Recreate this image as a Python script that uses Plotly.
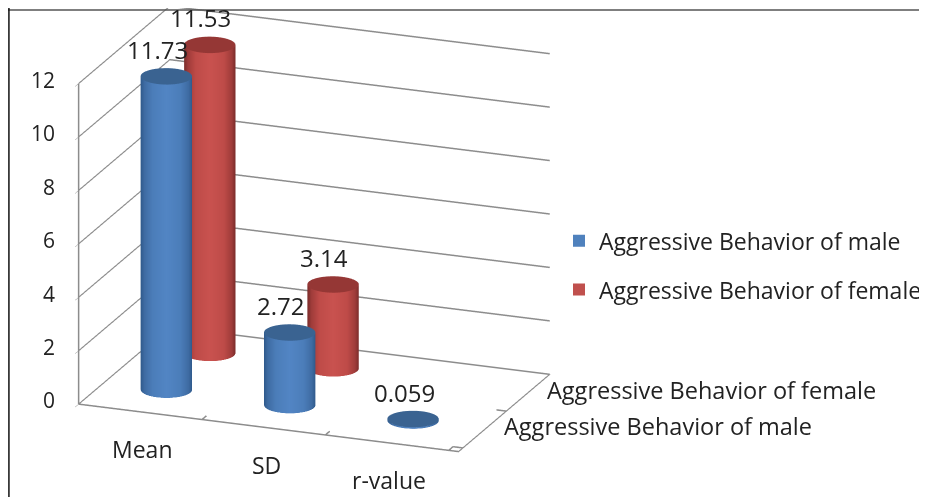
import numpy as np
import plotly.graph_objects as go

categories = ["Mean", "SD", "r-value"]
series = ["Aggressive Behavior of male", "Aggressive Behavior of female"]
male = [11.73, 2.72, 0.059]
female = [11.53, 3.14, None]
labels = {"male": ["11.73", "2.72", "0.059"], "female": ["11.53", "3.14", None]}
z_ticks = [0, 2, 4, 6, 8, 10, 12]

SCALE = 1.387
ASPECT = dict(x=1.2 * SCALE, y=0.75 * SCALE, z=1.0 * SCALE)
AZ = np.radians(21)
EL = np.radians(19)
DIST = 2.5
PAN = 0.627
LIFT = -0.102
FONT = "Open Sans"
TXT = "#222222"
GRID = "#8c8c8c"

right = np.array([np.cos(AZ), np.sin(AZ), 0])
view = np.array([np.cos(EL) * np.sin(AZ), -np.cos(EL) * np.cos(AZ), np.sin(EL)])
center = right * PAN + np.array([0, 0, LIFT])
eye = center + view * DIST


def cylinder(cx, cy, h, cscale, top, name):
    rx, ry = 0.195, 0.208
    t = np.linspace(0, 2 * np.pi, 73)
    zz = np.array([0.0, h])
    X = cx + rx * np.outer(np.cos(t), [1, 1])
    Y = cy + ry * np.outer(np.sin(t), [1, 1])
    Z = np.outer(np.ones_like(t), zz)
    u = np.abs(np.cos(t) * np.cos(AZ) + np.sin(t) * np.sin(AZ))
    C = np.outer(u, [1, 1])
    light = dict(ambient=1, diffuse=0, specular=0, fresnel=0, roughness=1)
    side = go.Surface(x=X, y=Y, z=Z, surfacecolor=C, cmin=0, cmax=1, colorscale=cscale,
                      showscale=False, lighting=light, hoverinfo="skip", name=name)
    rr = np.array([0.0, 1.0])
    Xc = cx + rx * np.outer(np.cos(t), rr)
    Yc = cy + ry * np.outer(np.sin(t), rr)
    Zc = np.full_like(Xc, h)
    cap = go.Surface(x=Xc, y=Yc, z=Zc, surfacecolor=np.zeros_like(Xc), cmin=0, cmax=1,
                     colorscale=[[0, top], [1, top]], showscale=False, lighting=light,
                     hoverinfo="skip", name=name)
    return [side, cap]


BLUE = [[0, "#5285C4"], [0.55, "#4B7DB9"], [0.85, "#3F6CA3"], [1, "#2F5A8C"]]
RED = [[0, "#C9524F"], [0.55, "#BE4B48"], [0.85, "#9F3C3A"], [1, "#7A2C2A"]]

fig = go.Figure()
annotations = []
for s, (vals, cs, top, key, color) in enumerate([
    (male, BLUE, "#3A6391", "male", "#4F81BD"),
    (female, RED, "#953735", "female", "#C0504D"),
]):
    cy = s + 0.5
    for i, v in enumerate(vals):
        if v is None:
            continue
        for tr in cylinder(i + 0.5, cy, v, cs, top, series[s]):
            fig.add_trace(tr)
        annotations.append(dict(x=i + 0.5, y=cy, z=v, text=labels[key][i], showarrow=False,
                                xshift=-9, yshift=27, font=dict(family=FONT, size=24, color=TXT)))
    fig.add_trace(go.Scatter3d(x=[0.5], y=[cy], z=[vals[0] / 2], mode="markers", name=series[s],
                               legendgroup=key,
                               marker=dict(symbol="square", size=2, color=color), hoverinfo="skip"))

# tick labels
for v in z_ticks:
    annotations.append(dict(x=0, y=0, z=v, text=str(v), showarrow=False, xanchor="right", xshift=-26,
                            font=dict(family=FONT, size=21, color=TXT)))
for i, c in enumerate(categories):
    annotations.append(dict(x=i + 0.5, y=0, z=0, text=c, showarrow=False, yshift=-41, xshift=-2,
                            font=dict(family=FONT, size=23, color=TXT)))
for i, c in enumerate(series):
    annotations.append(dict(x=3, y=i + 0.5, z=0, text=c, showarrow=False, xanchor="left", xshift=27,
                            yshift=2, font=dict(family=FONT, size=23.5, color=TXT)))

# category boundary ticks on the floor edges
for b in [1, 2, 3]:
    fig.add_trace(go.Scatter3d(x=[b, b], y=[0, -0.1], z=[0, 0], mode="lines",
                               line=dict(color=GRID, width=3), showlegend=False, hoverinfo="skip"))
for b in [0, 1, 2]:
    fig.add_trace(go.Scatter3d(x=[3, 3.08], y=[b, b], z=[0, 0], mode="lines",
                               line=dict(color=GRID, width=3), showlegend=False, hoverinfo="skip"))

ax_common = dict(showbackground=False, showgrid=False, zeroline=False, showline=True,
                 linecolor=GRID, linewidth=3, title=dict(text=""), showspikes=False,
                 showticklabels=False)

fig.update_layout(
    width=919, height=489, autosize=False,
    margin=dict(l=0, r=0, t=0, b=0),
    paper_bgcolor="white",
    font=dict(family=FONT, color=TXT),
    legend=dict(x=1.0, y=0.474, xanchor="right", yanchor="middle", bgcolor="rgba(0,0,0,0)",
                font=dict(family=FONT, size=23, color=TXT), itemsizing="constant", itemwidth=30,
                tracegroupgap=16),
    scene=dict(
        domain=dict(x=[0, 1], y=[0, 1]),
        aspectmode="manual", aspectratio=ASPECT,
        camera=dict(projection=dict(type="orthographic"), up=dict(x=0, y=0, z=1),
                    center=dict(x=center[0], y=center[1], z=center[2]),
                    eye=dict(x=eye[0], y=eye[1], z=eye[2])),
        xaxis=dict(range=[0, 3.08], tickvals=[0.5, 1.5, 2.5], ticktext=categories, ticks="", **ax_common),
        yaxis=dict(range=[-0.1, 2], tickvals=[0.5, 1.5], ticktext=series, ticks="", **ax_common),
        zaxis=dict(**{**ax_common, "showgrid": True, "gridcolor": GRID, "gridwidth": 3},
                   range=[0, 12], tickvals=z_ticks, ticks="outside", ticklen=6, tickcolor=GRID),
        annotations=annotations,
    ),
    shapes=[
        dict(type="line", xref="paper", yref="paper", x0=0, x1=1, y0=0.996, y1=0.996,
             line=dict(color="#555555", width=1.5)),
        dict(type="line", xref="paper", yref="paper", x0=0.001, x1=0.001, y0=0, y1=1,
             line=dict(color="#111111", width=1.5)),
    ],
)
fig.write_html("out.html")
